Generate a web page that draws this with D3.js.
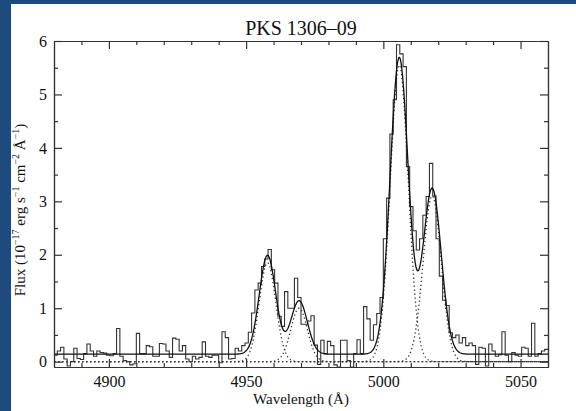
<!DOCTYPE html>
<html>
<head>
<meta charset="utf-8">
<script src="https://cdn.jsdelivr.net/npm/d3@7"></script>
<style>
  body { margin: 0; background: #fff; }
  svg text { font-family: "Liberation Serif", "Times New Roman", serif; fill: #111; }
</style>
</head>
<body>
<svg id="chart" width="576" height="411"></svg>
<script>

// spectrum bins (flux in 1e-17 erg/s/cm2/A), first bin starts at lamStart
var lamStart = 4880;
var binWidth = 1.2;
var flux = [
  0.12, 0.20, 0.27, 0.05, -0.08, 0.00, 0.25, 0.06, 0.04, 0.15,
  0.33, 0.20, 0.10, 0.20, 0.17, 0.16, 0.12, 0.11, 0.15, 0.62,
  0.10, 0.02, 0.00, -0.06, -0.04, 0.53, 0.15, 0.15, 0.30, 0.28,
  0.10, 0.10, 0.34, 0.33, 0.20, 0.08, 0.44, 0.42, 0.20, 0.30,
  0.05, 0.00, 0.10, 0.05, 0.08, 0.37, 0.10, 0.08, 0.12, 0.12,
  -0.02, 0.56, 0.45, 0.05, 0.06, 0.25, 0.20, 0.30, 0.35, 0.55,
  0.91, 1.34, 1.47, 1.78, 1.92, 2.10, 1.72, 1.47, 0.85, 0.66,
  1.31, 1.00, 1.00, 1.56, 1.20, 0.70, 0.70, 0.76, 0.86, 0.31,
  -0.05, 0.40, 0.15, 0.38, 0.30, -0.06, -0.10, 0.40, 0.40, 0.02,
  -0.10, 0.15, 0.41, 0.15, 1.03, 0.80, 0.40, 0.69, 0.90, 1.20,
  2.30, 3.06, 4.26, 4.90, 5.93, 5.76, 5.52, 3.65, 2.90, 2.45,
  2.09, 2.30, 2.74, 3.09, 3.71, 3.10, 2.30, 1.60, 1.15, 1.05,
  0.54, 0.45, 0.50, 0.35, 0.45, 0.30, 0.35, 0.30, -0.05, 0.27,
  0.25, -0.08, 0.33, 0.20, 0.10, 0.13, 0.56, 0.12, 0.00, 0.17,
  0.12, 0.10, 0.27, 0.25, 0.10, 0.72, 0.10, 0.15, 0.20, 0.23
];

// gaussian fit: [OIII] 4959 / 5007 doublet, two components each
var lineCenter = [4957.8, 4969.3, 5005.8, 5017.8];
var lineAmp    = [1.85, 1.00, 5.55, 3.10];
var lineSigma  = [3.0, 3.0, 3.3, 3.3];
var continuum  = 0.14;

var xMajor = [4900, 4950, 5000, 5050];
var xMinor = [4890, 4910, 4920, 4930, 4940, 4960, 4970, 4980, 4990, 5010, 5020, 5030, 5040];
var yMajor = [0, 1, 2, 3, 4, 5, 6];
var yMinor = [0.5, 1.5, 2.5, 3.5, 4.5, 5.5];

var svg = d3.select("#chart");

var plotL = 54, plotR = 548, plotT = 41, plotB = 367;

// page frame
svg.append("rect").attr("width", 576).attr("height", 411).attr("fill", "#fff");
svg.append("rect").attr("x", 0).attr("y", 0).attr("width", 11).attr("height", 411).attr("fill", "#1f4a7e");
svg.append("rect").attr("x", 0).attr("y", 0).attr("width", 576).attr("height", 4).attr("fill", "#1f4a7e");

var x = d3.scaleLinear().domain([4880, 5060]).range([plotL, plotR]);
var y = d3.scaleLinear().domain([-0.1, 6]).range([plotB, plotT]);

svg.append("clipPath").attr("id", "plotclip")
  .append("rect").attr("x", plotL).attr("y", plotT)
  .attr("width", plotR - plotL).attr("height", plotB - plotT);

var plot = svg.append("g").attr("clip-path", "url(#plotclip)");

function gauss(l, k) {
  var d = l - lineCenter[k];
  return lineAmp[k] * Math.exp(-d * d / (2 * lineSigma[k] * lineSigma[k]));
}

var grid = d3.range(4880, 5060.01, 0.2);

// dotted single components
var compLine = d3.line().x(function(d){ return x(d[0]); }).y(function(d){ return y(d[1]); });
for (var k = 0; k < lineCenter.length; k++) {
  var pts = grid.map(function(l){ return [l, gauss(l, k)]; });
  plot.append("path")
    .attr("d", compLine(pts))
    .attr("fill", "none")
    .attr("stroke", "#333")
    .attr("stroke-width", 1.3)
    .attr("stroke-dasharray", "1.3,2.7");
}

// observed spectrum as histogram
var steps = flux.map(function(f, i){ return [lamStart + i * binWidth, f]; });
steps.push([lamStart + flux.length * binWidth, flux[flux.length - 1]]);

var stepLine = d3.line()
  .x(function(d){ return x(d[0]); })
  .y(function(d){ return y(d[1]); })
  .curve(d3.curveStepAfter);

plot.append("path")
  .attr("d", stepLine(steps))
  .attr("fill", "none")
  .attr("stroke", "#333")
  .attr("stroke-width", 1.1);

// total fit
var total = grid.map(function(l){
  var s = continuum;
  for (var k = 0; k < lineCenter.length; k++) s += gauss(l, k);
  return [l, s];
});
plot.append("path")
  .attr("d", compLine(total))
  .attr("fill", "none")
  .attr("stroke", "#111")
  .attr("stroke-width", 1.3);

// axes, ticks point inward on all four sides
function styleAxis(g) {
  g.attr("font-family", null).attr("font-size", null);
  g.selectAll("path.domain").attr("stroke", "#333").attr("stroke-width", 1.2);
  g.selectAll(".tick line").attr("stroke", "#333").attr("stroke-width", 1.2);
  g.selectAll("text").style("font-size", "16px").attr("fill", "#111");
}

svg.append("g").attr("transform", "translate(0," + plotB + ")")
  .call(d3.axisBottom(x).tickValues(xMajor).tickSize(-8).tickSizeOuter(0).tickPadding(9).tickFormat(d3.format("d")))
  .call(styleAxis);
svg.append("g").attr("transform", "translate(0," + plotB + ")")
  .call(d3.axisBottom(x).tickValues(xMinor).tickSize(-4).tickSizeOuter(0).tickFormat(""))
  .call(styleAxis);
svg.append("g").attr("transform", "translate(0," + plotT + ")")
  .call(d3.axisTop(x).tickValues(xMajor).tickSize(-8).tickSizeOuter(0).tickFormat(""))
  .call(styleAxis);
svg.append("g").attr("transform", "translate(0," + plotT + ")")
  .call(d3.axisTop(x).tickValues(xMinor).tickSize(-4).tickSizeOuter(0).tickFormat(""))
  .call(styleAxis);

svg.append("g").attr("transform", "translate(" + plotL + ",0)")
  .call(d3.axisLeft(y).tickValues(yMajor).tickSize(-8).tickSizeOuter(0).tickPadding(7).tickFormat(d3.format("d")))
  .call(styleAxis);
svg.append("g").attr("transform", "translate(" + plotL + ",0)")
  .call(d3.axisLeft(y).tickValues(yMinor).tickSize(-4).tickSizeOuter(0).tickFormat(""))
  .call(styleAxis);
svg.append("g").attr("transform", "translate(" + plotR + ",0)")
  .call(d3.axisRight(y).tickValues(yMajor).tickSize(-8).tickSizeOuter(0).tickFormat(""))
  .call(styleAxis);
svg.append("g").attr("transform", "translate(" + plotR + ",0)")
  .call(d3.axisRight(y).tickValues(yMinor).tickSize(-4).tickSizeOuter(0).tickFormat(""))
  .call(styleAxis);

// titles
svg.append("text")
  .attr("x", (plotL + plotR) / 2).attr("y", 35)
  .attr("text-anchor", "middle").style("font-size", "20px")
  .text("PKS 1306\u201309");

svg.append("text")
  .attr("x", (plotL + plotR) / 2).attr("y", 404)
  .attr("text-anchor", "middle").style("font-size", "15px")
  .text("Wavelength (\u00c5)");

var ylab = svg.append("text")
  .attr("transform", "translate(25,210) rotate(-90)")
  .attr("text-anchor", "middle").style("font-size", "15px");
ylab.append("tspan").text("Flux (10");
ylab.append("tspan").style("font-size", "10px").attr("dy", -6).text("\u221217");
ylab.append("tspan").attr("dy", 6).text(" erg s");
ylab.append("tspan").style("font-size", "10px").attr("dy", -6).text("\u22121");
ylab.append("tspan").attr("dy", 6).text(" cm");
ylab.append("tspan").style("font-size", "10px").attr("dy", -6).text("\u22122");
ylab.append("tspan").attr("dy", 6).text(" \u00c5");
ylab.append("tspan").style("font-size", "10px").attr("dy", -6).text("\u22121");
ylab.append("tspan").attr("dy", 6).text(")");

</script>
</body>
</html>
